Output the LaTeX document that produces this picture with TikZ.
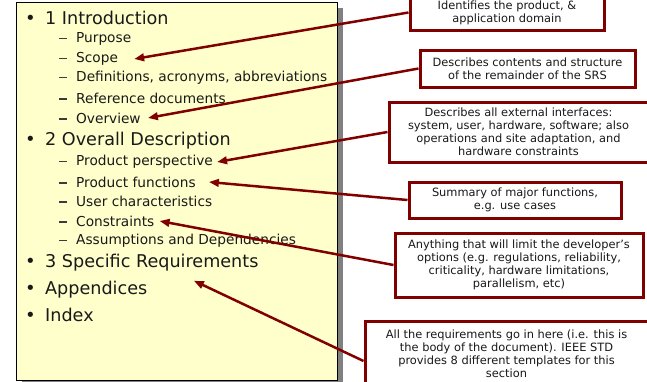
\documentclass[tikz,border=0pt]{standalone}
\usepackage{fontspec}
\setmainfont{DejaVu Sans}
\usepackage{xcolor}
\usepackage{tikz}
\usetikzlibrary{arrows.meta,positioning,calc}
\definecolor{slidebg}{RGB}{255,255,204}
\definecolor{calloutred}{RGB}{128,0,0}
\definecolor{shadowgray}{RGB}{128,128,128}
\definecolor{inktext}{RGB}{25,25,25}

\tikzset{
  topitem/.style={anchor=west, inner sep=0pt, text=inktext, font=\fontsize{17.6}{20}\selectfont},
  subitem/.style={anchor=west, inner sep=0pt, text=inktext, font=\fontsize{13.7}{16}\selectfont},
  callout/.style={draw=calloutred, line width=3pt, fill=white, align=center,
    inner sep=0pt, text=inktext, font=\fontsize{11.4}{13}\selectfont},
  callarrow/.style={calloutred, line width=2.5pt, -{Triangle[length=10pt,width=7.5pt]}}
}
\newcommand{\lvlonemark}{\makebox[20pt][l]{\fontsize{18}{18}\selectfont\textbullet}}
\newcommand{\lvltwomark}{\makebox[18pt][l]{\hspace{1pt}\color{inktext!85}\rule[0.25em]{8pt}{1.5pt}}}

\begin{document}
\begin{tikzpicture}[x=1pt,y=-1pt]
  \useasboundingbox (0,0) rectangle (647,381);

  % Slide panel with shadow
  \fill[shadowgray] (22,8) rectangle (343,388);
  \draw[fill=slidebg, line width=0.8pt] (16,2) rectangle (337,380);

  % Outline of the SRS
  \node[topitem] (intro) at (25,18) {\lvlonemark 1 Introduction};
  \node[subitem] (purpose) at (58,39) {\lvltwomark Purpose};
  \node[subitem] (scope) at (58,59) {\lvltwomark Scope};
  \node[subitem] (defs) at (58,78) {\lvltwomark Definitions, acronyms, abbreviations};
  \node[subitem] (refs) at (58,98) {\lvltwomark Reference documents};
  \node[subitem] (overview) at (58,118) {\lvltwomark Overview};
  \node[topitem] (overall) at (25,141) {\lvlonemark 2 Overall Description};
  \node[subitem] (persp) at (58,162) {\lvltwomark Product perspective};
  \node[subitem] (funcs) at (58,182) {\lvltwomark Product functions};
  \node[subitem] (users) at (58,201) {\lvltwomark User characteristics};
  \node[subitem] (constr) at (58,221) {\lvltwomark Constraints};
  \node[subitem] (assump) at (58,241) {\lvltwomark Assumptions and Dependencies};
  \node[topitem] (specreq) at (25,263) {\lvlonemark 3 Specific Requirements};
  \node[topitem] (append) at (25,290) {\lvlonemark Appendices};
  \node[topitem] (index) at (25,315) {\lvlonemark Index};

  % Callouts
  \node[callout, minimum width=194pt, minimum height=35pt] (b1) at (507,12.5)
    {Identifies the product, \&\\application domain};
  \node[callout, minimum width=215pt, minimum height=37pt] (b2) at (527.5,68.5)
    {Describes contents and structure\\of the remainder of the SRS};
  \node[callout, minimum width=259pt, minimum height=60pt] (b3) at (518.5,132)
    {Describes all external interfaces:\\system, user, hardware, software; also\\operations and site adaptation, and\\hardware constraints};
  \node[callout, minimum width=212pt, minimum height=36pt] (b4) at (515,200)
    {Summary of major functions,\\e.g. use cases};
  \node[callout, minimum width=248pt, minimum height=64pt] (b5) at (519,265)
    {Anything that will limit the developer's\\options (e.g. regulations, reliability,\\criticality, hardware limitations,\\parallelism, etc)};
  \node[callout, minimum width=283pt, minimum height=66pt] (b6) at (506.5,354)
    {All the requirements go in here (i.e. this is\\the body of the document). IEEE STD\\provides 8 different templates for this\\section};

  % Pointers
  \draw[callarrow] (b1.west) -- ([xshift=16pt]scope.east);
  \draw[callarrow] (b2.west) -- ([xshift=7pt]overview.east);
  \draw[callarrow] (b3.west) -- ([xshift=4pt]persp.east);
  \draw[callarrow] (b4.west) -- ([xshift=13pt]funcs.east);
  \draw[callarrow] (b5.west) -- ([xshift=5pt]constr.east);
  \draw[callarrow] ([yshift=-7pt]b6.west) -- ([xshift=52pt,yshift=-9pt]specreq.south);
\end{tikzpicture}
\end{document}
